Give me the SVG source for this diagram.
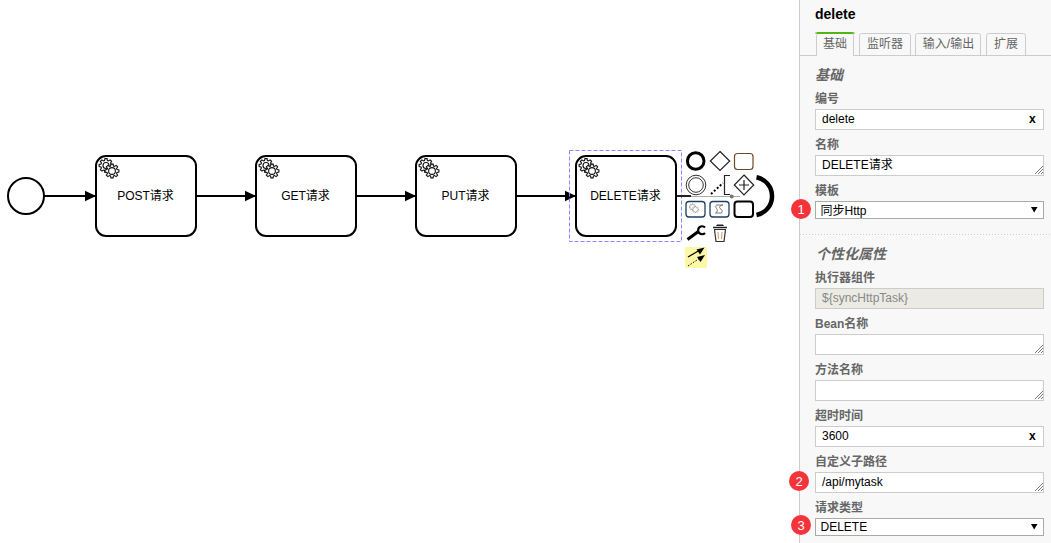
<svg xmlns="http://www.w3.org/2000/svg" xmlns:xlink="http://www.w3.org/1999/xlink" width="1051" height="543" viewBox="0 0 1051 543">
<style>
text{font-family:"Liberation Sans","Noto Sans CJK SC",sans-serif;font-size:12px;fill:#000}
.task{fill:#fff;stroke:#000;stroke-width:2}
.flow{fill:none;stroke:#000;stroke-width:2;marker-end:url(#arrow)}
.mid{text-anchor:middle}
.lbl{font-weight:bold;fill:#666}
.sec{font-weight:bold;font-style:italic;font-size:14px;fill:#666}
.tab{fill:#666;text-anchor:middle}
.tabbox{fill:#f8f8f8;stroke:#ccc;stroke-width:1}
.inp{fill:#fff;stroke:#ccc;stroke-width:1}
.sel{fill:#fff;stroke:#aaa;stroke-width:1}
.x{font-weight:bold;font-size:12px}
.grip{stroke:#555;stroke-width:.8;fill:none}
.badge{fill:#f5333a}
.num{fill:#fff;font-size:13px;text-anchor:middle}
.pad{fill:#fff;stroke:#222;stroke-width:1.2}
.padtask{fill:#fff;stroke:#1f3f5f;stroke-width:1.3}
</style>
<defs>
<marker id="arrow" markerUnits="userSpaceOnUse" markerWidth="13" markerHeight="12" refX="11.500" refY="6" orient="auto"><path d="M.5 .8L11.500 6L.5 11.200Z" fill="#000"/></marker>
<path id="cog" d="M5 -1.43L6.91 -1.09L6.91 1.09L5 1.43L4.55 2.52L5.66 4.12L4.12 5.66L2.52 4.55L1.43 5L1.09 6.91L-1.09 6.91L-1.43 5L-2.52 4.55L-4.12 5.66L-5.66 4.12L-4.55 2.52L-5 1.43L-6.91 1.09L-6.91 -1.09L-5 -1.43L-4.55 -2.52L-5.66 -4.12L-4.12 -5.66L-2.52 -4.55L-1.43 -5L-1.09 -6.91L1.09 -6.91L1.43 -5L2.52 -4.55L4.12 -5.66L5.66 -4.12L4.55 -2.52Z" fill="#fff" stroke="#111" stroke-width="1.100"/>
<g id="gears">
<use xlink:href="#cog" x="10" y="9.500"/><circle cx="10" cy="9.500" r="3" fill="#fff" stroke="#111" stroke-width="1.100"/>
<use xlink:href="#cog" x="16" y="15"/><circle cx="16" cy="15" r="3.400" fill="#fff" stroke="#111" stroke-width="1.100"/>
</g>
<path id="grip" d="M1035 174L1043 166M1038 174L1043 169M1041 174L1043 172"/>
</defs>
<rect width="1051" height="543" fill="#fff"/>

<g id="connectors">
<path class="flow" d="M45 196H96"/>
<path class="flow" d="M196 196H256"/>
<path class="flow" d="M356 196H416"/>
<path class="flow" d="M516 196H576"/>
</g>

<g id="start"><circle cx="26" cy="196" r="18" fill="#fff" stroke="#000" stroke-width="2"/></g>
<g id="post"><rect class="task" x="96" y="156" width="100" height="80" rx="10"/><use xlink:href="#gears" x="96" y="156"/><text class="mid" x="145.500" y="200">POST请求</text></g>
<g id="get"><rect class="task" x="256" y="156" width="100" height="80" rx="10"/><use xlink:href="#gears" x="256" y="156"/><text class="mid" x="305.500" y="200">GET请求</text></g>
<g id="put"><rect class="task" x="416" y="156" width="100" height="80" rx="10"/><use xlink:href="#gears" x="416" y="156"/><text class="mid" x="465.500" y="200">PUT请求</text></g>
<g id="delete"><rect x="569.500" y="150.500" width="112" height="91" fill="none" stroke="#8888ff" stroke-width="1" stroke-dasharray="4 2"/><rect class="task" x="576" y="156" width="100" height="80" rx="10"/><use xlink:href="#gears" x="576" y="156"/><text class="mid" x="625.500" y="200">DELETE请求</text></g>

<g id="context-pad">
<path d="M677 196H691" stroke="#222" stroke-width="2" fill="none"/>
<path d="M691 196.500H740" stroke="#aaa" stroke-width="1" fill="none"/>
<circle cx="731.700" cy="196.500" r="2" fill="#777"/>
<circle cx="695.700" cy="161" r="8.300" fill="#fff" stroke="#000" stroke-width="3"/>
<path class="pad" d="M720 151.500L729.700 161L720 170.500L710.300 161Z"/>
<rect x="734.500" y="153.500" width="18.500" height="16" rx="3" fill="#fff" stroke="#6a4a2a" stroke-width="1.200"/>
<circle cx="696" cy="185" r="9.800" fill="#fff" stroke="#333" stroke-width="1"/><circle cx="696" cy="185" r="7.300" fill="#fff" stroke="#333" stroke-width="1"/>
<path d="M711 194L723 183" stroke="#000" stroke-width="2" stroke-dasharray="2 2" fill="none"/>
<path d="M730 175.500H724.500V194.500H730" stroke="#222" stroke-width="1.200" fill="none"/>
<path class="pad" d="M744 175L753.700 185L744 195L734.300 185Z"/>
<path d="M739 185H749M744 180V190" stroke="#222" stroke-width="1.200" fill="none"/>
<path d="M756.500 177.300A19.200 19.200 0 0 1 756.500 215" stroke="#000" stroke-width="4.500" fill="none"/>
<rect class="padtask" x="686" y="201.500" width="19" height="15.500" rx="3"/>
<g opacity=".65"><use xlink:href="#cog" transform="translate(692.500 207) scale(.45)"/><use xlink:href="#cog" transform="translate(695.500 209.500) scale(.45)"/></g>
<rect class="padtask" x="710" y="201.500" width="19" height="15.500" rx="3"/>
<path d="M716.500 205H723C721 205 718.500 207 720 208.500C722 209.500 723 211 721.500 213H715.500C717.500 212 718 210 716.500 208.500C715.500 207 715.500 205.500 716.500 205Z" fill="none" stroke="#555" stroke-width=".8"/>
<rect x="734.500" y="201.500" width="18.500" height="15.500" rx="3" fill="#fff" stroke="#000" stroke-width="2"/>
<path d="M687.500 239.500L698 231.700" stroke="#000" stroke-width="3" fill="none"/>
<path d="M705 227.500A4 4 0 1 0 705 233" stroke="#000" stroke-width="2.200" fill="none"/>
<path d="M713 227.500H727" stroke="#222" stroke-width="1.500" fill="none"/>
<path d="M716 226L717 224.500H723L724 226Z" fill="#222"/>
<path d="M714.500 229.500L716 241.500H724L725.500 229.500Z" fill="#fff" stroke="#333" stroke-width="1.200"/>
<path d="M718 232L718.500 239M722 232L721.500 239" stroke="#c96" stroke-width="1" fill="none"/>
<rect x="685" y="247" width="22" height="21" rx="2" fill="#fdf8a6"/>
<path d="M688 257L700 250" stroke="#000" stroke-width="1.200" fill="none"/><path d="M704.500 247.500L696.500 249.500L700 254.500Z" fill="#000"/>
<path d="M688 266L700 258" stroke="#000" stroke-width="1" stroke-dasharray="1.500 1.500" fill="none"/><path d="M705 255L697 257L700.500 262Z" fill="#000"/>
</g>

<g id="panel">
<rect x="799.500" y="-1" width="253" height="545" fill="#f8f8f8" stroke="#ccc" stroke-width="1"/>
<text x="815" y="19" style="font-size:14px;font-weight:bold">delete</text>
<path d="M800 55.500H1051" stroke="#ccc" fill="none"/>
<path d="M800 234.500H1051" stroke="#ccc" stroke-dasharray="1 2" fill="none"/>
</g>
<g id="tabs">
<path class="tabbox" d="M816.500 56V35.500Q816.500 33.500 818.500 33.500H852Q853.500 33.500 853.500 35.500V56"/>
<path d="M816 33.500Q816 33 818 33H852Q854 33 854 33.500" stroke="#52b415" stroke-width="2" fill="none"/>
<rect x="817" y="54" width="36" height="3" fill="#f8f8f8"/>
<text class="tab" x="835" y="48">基础</text>
<path class="tabbox" d="M859.500 55V35.500Q859.500 33.500 861.500 33.500H908.500Q910.500 33.500 910.500 35.500V55"/>
<text class="tab" x="885" y="48">监听器</text>
<path class="tabbox" d="M915.500 55V35.500Q915.500 33.500 917.500 33.500H978.500Q980.500 33.500 980.500 35.500V55"/>
<text class="tab" x="948.500" y="48">输入/输出</text>
<path class="tabbox" d="M986.500 55V35.500Q986.500 33.500 988.500 33.500H1023.500Q1025.500 33.500 1025.500 35.500V55"/>
<text class="tab" x="1006" y="48">扩展</text>
</g>

<g id="form">
<text class="sec" x="815" y="80">基础</text>
<text class="sec" x="816" y="259">个性化属性</text>

<text class="lbl" x="815" y="103">编号</text>
<rect class="inp" x="815.500" y="109.500" width="228" height="20"/>
<text x="822" y="123">delete</text><text class="x" x="1029" y="123">x</text>

<text class="lbl" x="815" y="149">名称</text>
<rect class="inp" x="815.500" y="155.500" width="228" height="20"/>
<text x="822" y="169">DELETE请求</text><use xlink:href="#grip" class="grip"/>

<text class="lbl" x="815" y="195">模板</text>
<rect class="sel" x="815.500" y="201.500" width="228" height="17"/>
<text x="820.500" y="215">同步Http</text><path d="M1031 207H1037.500L1034.200 212.500Z" fill="#000"/>

<text class="lbl" x="815" y="282">执行器组件</text>
<rect x="815.500" y="288.500" width="228" height="20" fill="#ebebe4" stroke="#ccc"/>
<text x="822" y="302" style="fill:#888">${syncHttpTask}</text>

<text class="lbl" x="815" y="328">Bean名称</text>
<rect class="inp" x="815.500" y="334.500" width="228" height="20"/><use xlink:href="#grip" class="grip" y="179"/>

<text class="lbl" x="815" y="374">方法名称</text>
<rect class="inp" x="815.500" y="380.500" width="228" height="20"/><use xlink:href="#grip" class="grip" y="225"/>

<text class="lbl" x="815" y="420">超时时间</text>
<rect class="inp" x="815.500" y="426.500" width="228" height="20"/>
<text x="822" y="440">3600</text><text class="x" x="1029" y="440">x</text>

<text class="lbl" x="815" y="466">自定义子路径</text>
<rect class="inp" x="815.500" y="472.500" width="228" height="20"/>
<text x="822" y="486">/api/mytask</text><use xlink:href="#grip" class="grip" y="317"/>

<text class="lbl" x="815" y="512">请求类型</text>
<rect class="sel" x="815.500" y="518.500" width="228" height="17"/>
<text x="820.500" y="531">DELETE</text><path d="M1031 524H1037.500L1034.200 529.500Z" fill="#000"/>
</g>

<g id="badge-1"><circle class="badge" cx="801" cy="209" r="10"/><text class="num" x="801" y="214">1</text></g>
<g id="badge-2"><circle class="badge" cx="799" cy="481" r="10"/><text class="num" x="799" y="486">2</text></g>
<g id="badge-3"><circle class="badge" cx="801" cy="525" r="10"/><text class="num" x="801" y="530">3</text></g>
</svg>
